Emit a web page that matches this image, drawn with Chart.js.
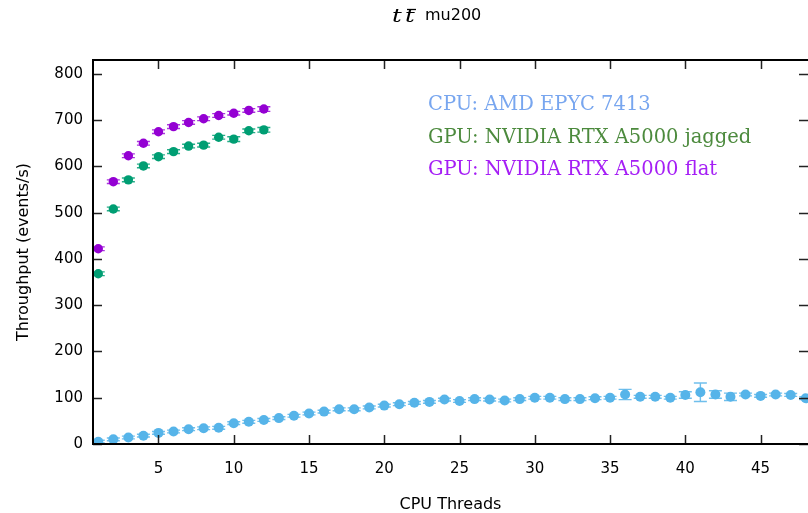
<!DOCTYPE html>
<html>
<head>
<meta charset="utf-8">
<title>ttbar mu200 throughput</title>
<script src="https://cdn.jsdelivr.net/npm/chart.js@4.4.1/dist/chart.umd.min.js"></script>
<style>
  html, body { margin: 0; padding: 0; background: #fff; }
  #wrap { width: 808px; height: 513px; }
</style>
</head>
<body>
<div id="wrap"><canvas id="chart" width="808" height="513"></canvas></div>
<script>
// x: number of CPU threads
var cpuThreads = [1, 2, 3, 4, 5, 6, 7, 8, 9, 10, 11, 12, 13, 14, 15, 16, 17, 18, 19, 20, 21, 22, 23, 24,
                  25, 26, 27, 28, 29, 30, 31, 32, 33, 34, 35, 36, 37, 38, 39, 40, 41, 42, 43, 44, 45, 46, 47, 48];
var gpuThreads = [1, 2, 3, 4, 5, 6, 7, 8, 9, 10, 11, 12];

// throughput (events/s) and its error
var cpuRate = [5, 10, 14, 18, 24, 27, 32, 34, 35, 45, 48, 52, 56, 61, 66, 70, 75, 75, 79, 83, 86, 89, 91, 96,
               93, 97, 96, 94, 97, 100, 100, 97, 97, 99, 100, 107, 102, 102, 100, 106, 112, 107, 102, 107, 104, 107, 106, 99];
var cpuErr = [3, 3, 3, 3, 3, 3, 3, 3, 3, 3, 3, 3, 3, 3, 3, 3, 3, 3, 3, 3, 3, 3, 3, 3,
              3, 3, 3, 3, 3, 3, 3, 3, 3, 3, 3, 11, 3, 3, 3, 7, 20, 8, 8, 3, 3, 3, 3, 3];
var jaggedRate = [368, 508, 571, 601, 621, 632, 644, 646, 663, 659, 677, 679];
var jaggedErr = [4, 4, 4, 4, 4, 4, 4, 4, 4, 5, 4, 5];
var flatRate = [422, 567, 623, 650, 675, 686, 695, 703, 710, 715, 721, 724];
var flatErr = [4, 4, 4, 4, 4, 4, 4, 4, 4, 4, 4, 5];

var xTicks = [5, 10, 15, 20, 25, 30, 35, 40, 45];
var yTicks = [0, 100, 200, 300, 400, 500, 600, 700, 800];

var seriesLabels = ['CPU: AMD EPYC 7413', 'GPU: NVIDIA RTX A5000 jagged', 'GPU: NVIDIA RTX A5000 flat'];
var markerColors = ['#56b4e9', '#009e73', '#9400d3'];
var errorColors = ['rgba(86,180,233,0.85)', 'rgba(0,158,115,0.85)', 'rgba(148,0,211,0.8)'];
var legendColors = ['#78a6ef', '#4c8a3d', '#a51ef5'];

function points(xs, ys) {
    var out = [];
    for (var i = 0; i < xs.length; i++) out.push({ x: xs[i], y: ys[i] });
    return out;
}

// vertical error bars with wide caps (gnuplot style)
var errorBars = {
    id: 'errorBars',
    beforeDatasetsDraw: function (chart) {
        var ctx = chart.ctx, xs = chart.scales.x, ys = chart.scales.y, a = chart.chartArea;
        var cap = 6.5;
        ctx.save();
        ctx.beginPath();
        ctx.rect(a.left, a.top, a.right - a.left, a.bottom - a.top);
        ctx.clip();
        chart.data.datasets.forEach(function (ds) {
            ctx.strokeStyle = ds.errorColor;
            ctx.lineWidth = 1.4;
            ds.data.forEach(function (p, j) {
                var px = xs.getPixelForValue(p.x);
                var lo = ys.getPixelForValue(p.y - ds.errors[j]);
                var hi = ys.getPixelForValue(p.y + ds.errors[j]);
                ctx.beginPath();
                ctx.moveTo(px, lo); ctx.lineTo(px, hi);
                ctx.moveTo(px - cap, lo); ctx.lineTo(px + cap, lo);
                ctx.moveTo(px - cap, hi); ctx.lineTo(px + cap, hi);
                ctx.stroke();
            });
        });
        ctx.restore();
    }
};

// plot border, inward ticks, title and text legend
var frame = {
    id: 'frame',
    afterDraw: function (chart) {
        var ctx = chart.ctx, a = chart.chartArea, xs = chart.scales.x, ys = chart.scales.y;
        var tl = 9;
        ctx.save();
        ctx.strokeStyle = '#222';
        ctx.lineWidth = 1.5;
        ctx.beginPath();
        xs.ticks.forEach(function (t) {
            var px = Math.round(xs.getPixelForValue(t.value)) + 0.5;
            ctx.moveTo(px, a.bottom); ctx.lineTo(px, a.bottom - tl);
            ctx.moveTo(px, a.top); ctx.lineTo(px, a.top + tl);
        });
        ys.ticks.forEach(function (t) {
            var py = Math.round(ys.getPixelForValue(t.value)) + 0.5;
            ctx.moveTo(a.left, py); ctx.lineTo(a.left + tl, py);
            ctx.moveTo(a.right, py); ctx.lineTo(a.right - tl, py);
        });
        ctx.stroke();
        // border: right side falls just outside the picture
        ctx.strokeStyle = '#000';
        ctx.lineWidth = 2;
        ctx.beginPath();
        ctx.moveTo(a.right + 2, a.top); ctx.lineTo(a.left, a.top);
        ctx.lineTo(a.left, a.bottom); ctx.lineTo(a.right + 2, a.bottom);
        ctx.stroke();

        // title: t tbar mu200
        ctx.fillStyle = '#000';
        ctx.textBaseline = 'alphabetic';
        ctx.textAlign = 'left';
        ctx.save();
        ctx.translate(392, 22);
        ctx.scale(1.35, 1);
        ctx.font = 'italic 18px "DejaVu Serif"';
        ctx.fillText('t', 0, 0);
        ctx.fillText('t', 9.6, 0);
        ctx.restore();
        ctx.lineWidth = 1.3;
        ctx.beginPath();
        ctx.moveTo(407, 9.5); ctx.lineTo(416, 9.5);
        ctx.stroke();
        ctx.font = '16px "DejaVu Sans"';
        ctx.fillText('mu200', 425, 20);

        // legend text
        ctx.font = '19.5px "DejaVu Serif"';
        for (var i = 0; i < seriesLabels.length; i++) {
            ctx.fillStyle = legendColors[i];
            ctx.fillText(seriesLabels[i], 428, 110 + i * 32.5);
        }
        ctx.restore();
    }
};

new Chart('chart', {
    type: 'scatter',
    data: {
        datasets: [
            { label: seriesLabels[0], data: points(cpuThreads, cpuRate), errors: cpuErr, errorColor: errorColors[0],
              backgroundColor: markerColors[0], borderWidth: 0, pointRadius: 5 },
            { label: seriesLabels[1], data: points(gpuThreads, jaggedRate), errors: jaggedErr, errorColor: errorColors[1],
              backgroundColor: markerColors[1], borderWidth: 0, pointRadius: 4.7 },
            { label: seriesLabels[2], data: points(gpuThreads, flatRate), errors: flatErr, errorColor: errorColors[2],
              backgroundColor: markerColors[2], borderWidth: 0, pointRadius: 4.7 }
        ]
    },
    options: {
        responsive: false,
        animation: false,
        layout: { autoPadding: false, padding: { top: 60, right: -1, bottom: 0, left: 0 } },
        plugins: {
            legend: { display: false },
            title: { display: false },
            tooltip: { enabled: false }
        },
        scales: {
            x: {
                type: 'linear',
                min: 0.65,
                max: 48.15,
                grid: { display: false, drawTicks: false },
                border: { display: false },
                afterBuildTicks: function (scale) {
                    scale.ticks = xTicks.map(function (v) { return { value: v }; });
                },
                afterFit: function (scale) { scale.height = 69; scale.paddingLeft = 0; scale.paddingRight = 0; },
                ticks: { color: '#000', padding: 16, font: { family: 'DejaVu Sans', size: 15 } },
                title: { display: true, text: 'CPU Threads', color: '#000',
                         font: { family: 'DejaVu Sans', size: 16, lineHeight: 1 }, padding: 0 }
            },
            y: {
                type: 'linear',
                min: 0,
                max: 830,
                grid: { display: false, drawTicks: false },
                border: { display: false },
                afterBuildTicks: function (scale) {
                    scale.ticks = yTicks.map(function (v) { return { value: v }; });
                },
                afterFit: function (scale) { scale.width = 93; scale.paddingTop = 0; scale.paddingBottom = 0; },
                ticks: { color: '#000', padding: 10, font: { family: 'DejaVu Sans', size: 15 } },
                title: { display: true, text: 'Throughput (events/s)', color: '#000',
                         font: { family: 'DejaVu Sans', size: 16, lineHeight: 1 }, padding: { top: 16, bottom: 0 } }
            }
        }
    },
    plugins: [errorBars, frame]
});
</script>
</body>
</html>
